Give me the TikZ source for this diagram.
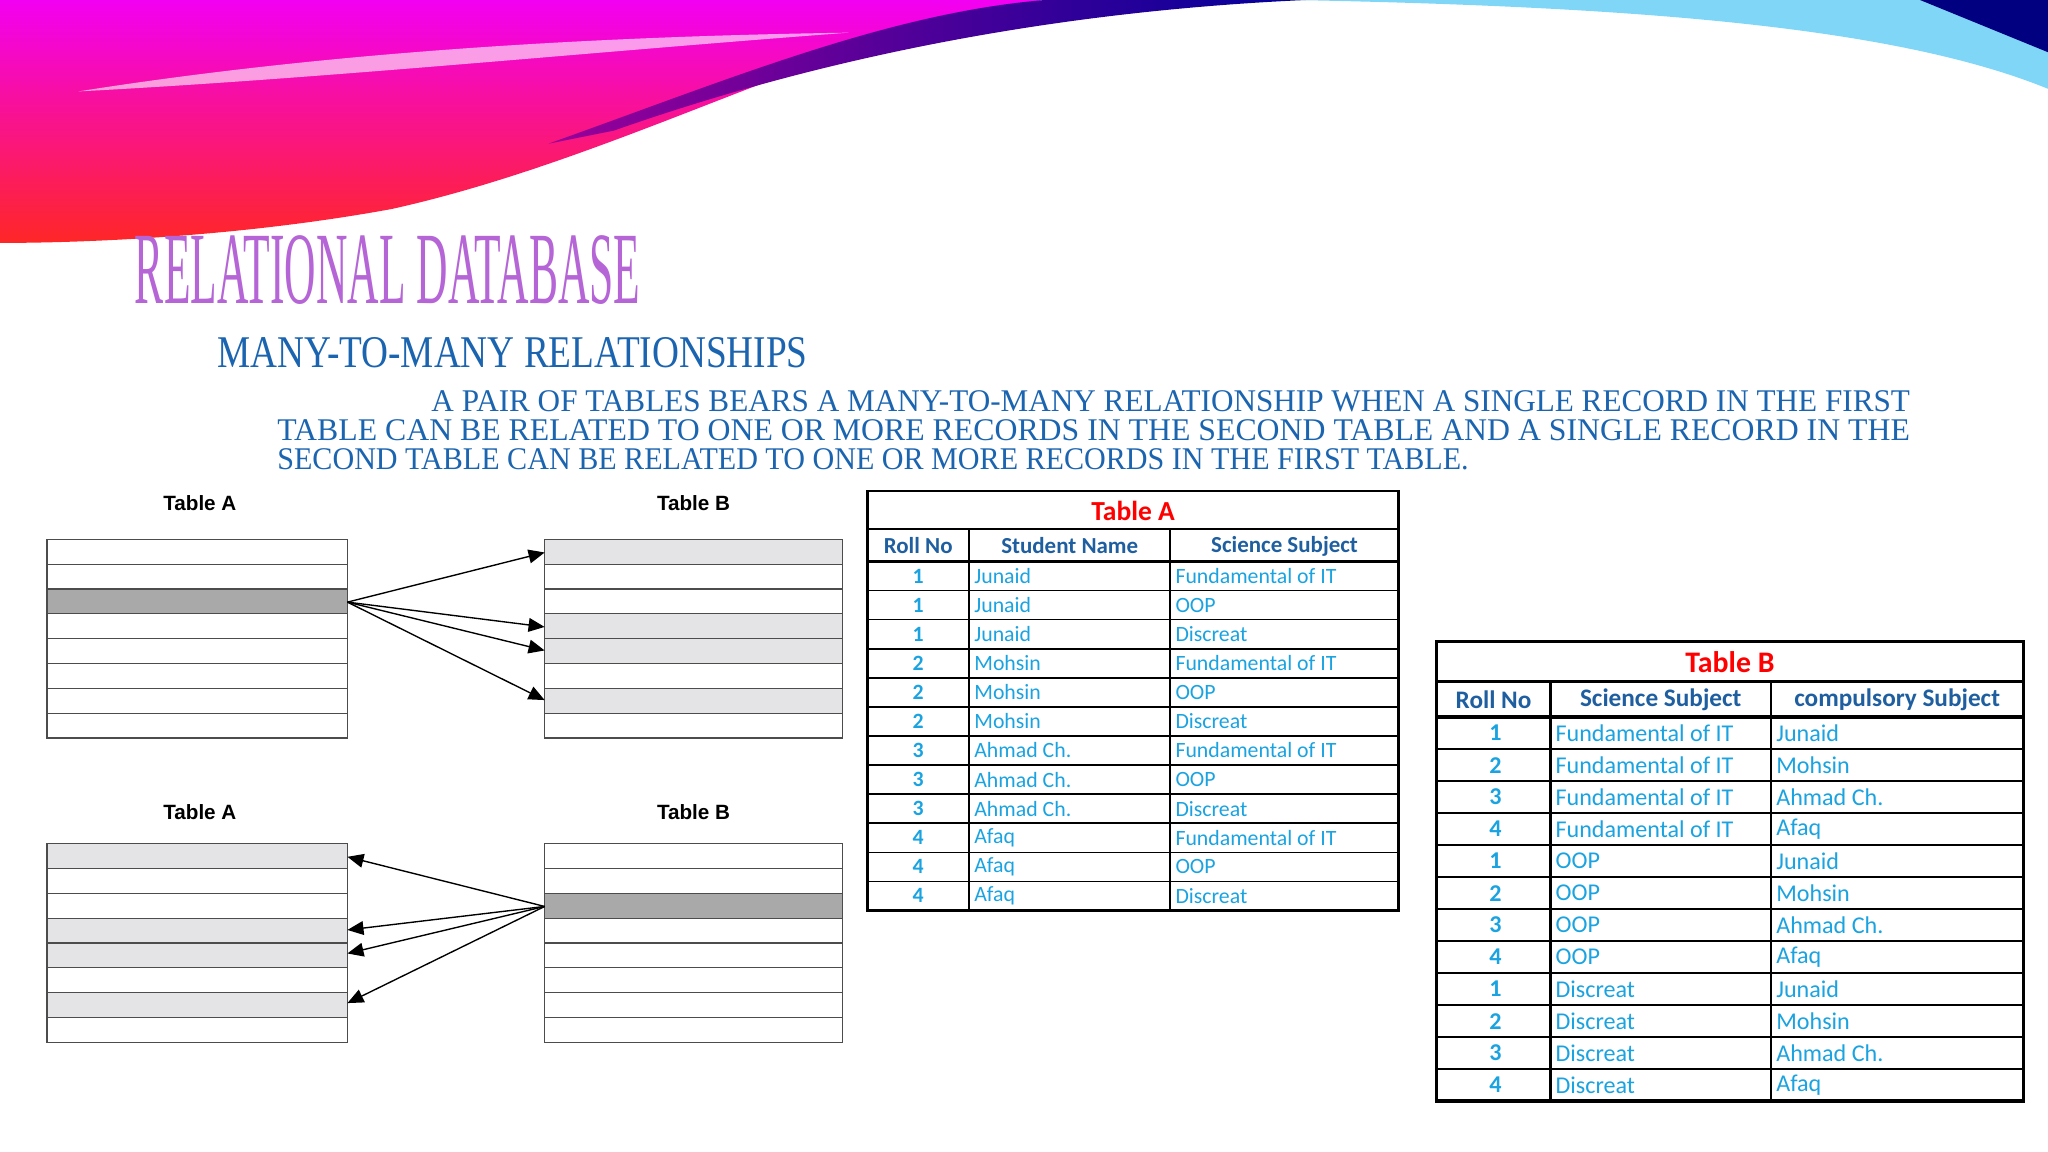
\documentclass[tikz,border=0pt]{standalone}
\usepackage{fontspec}
\setmainfont{Liberation Serif}
\newfontfamily\calfnt{Carlito}
\newfontfamily\ars{Liberation Sans}
\usetikzlibrary{arrows.meta}
\definecolor{hdr}{HTML}{1F5FA0}
\definecolor{dat}{HTML}{1AA3E0}
\definecolor{ttl}{HTML}{B565D6}
\definecolor{sub}{HTML}{1B64B0}
\definecolor{dk}{HTML}{A9A9A9}
\definecolor{lt}{HTML}{E4E4E6}
\begin{document}
\begin{tikzpicture}[x=0.2mm,y=-0.2mm,
  rowbox/.style={draw=black!70,line width=0.5pt},
  arr/.style={-{Triangle[length=7pt,width=6pt]},line width=0.6pt},
  lbl/.style={font=\ars\bfseries\fontsize{9}{10}\selectfont},
  ta/.style={font=\calfnt\fontsize{9.5}{11}\selectfont,text=dat,inner sep=1.5pt},
  tb/.style={font=\calfnt\fontsize{10.5}{12}\selectfont,text=dat,inner sep=1.5pt}]
\useasboundingbox (0,0) rectangle (1568,882);
% swoosh
\shade[top color=magenta!90!violet,bottom color=red!80!pink] (0,0) -- (800,0) .. controls (650,20) and (480,120) .. (300,160) .. controls (180,182) and (60,186) .. (0,186) -- cycle;
\fill[white,opacity=0.6] (60,70) .. controls (250,40) and (450,28) .. (650,25) .. controls (450,40) and (250,60) .. (60,70) -- cycle;
\shade[left color=violet!80!magenta,right color=blue!60!black] (420,110) .. controls (560,60) and (680,10) .. (800,0) -- (1000,0) .. controls (820,8) and (640,40) .. (470,100) -- cycle;
\fill[cyan!50] (990,0) -- (1568,0) -- (1568,68) .. controls (1450,20) and (1250,5) .. (990,0) -- cycle;
\fill[blue!50!black] (1470,0) -- (1568,0) -- (1568,40) -- cycle;
% titles
\node[anchor=north west,inner sep=0,text=ttl] (t) at (103,180) {\resizebox{77.4mm}{10.4mm}{RELATIONAL DATABASE}};
\node[anchor=north west,inner sep=0,text=sub] (s) at (166,258) {\resizebox{90.4mm}{4.6mm}{MANY-TO-MANY RELATIONSHIPS}};
\node[anchor=north west,inner sep=0,text=sub] (p1) at (330,299) {\resizebox{226.4mm}{3.2mm}{A PAIR OF TABLES BEARS A MANY-TO-MANY RELATIONSHIP WHEN A SINGLE RECORD IN THE FIRST}};
\node[anchor=north west,inner sep=0,text=sub] (p2) at (212,321) {\resizebox{250mm}{3.2mm}{TABLE CAN BE RELATED TO ONE OR MORE RECORDS IN THE SECOND TABLE AND A SINGLE RECORD IN THE}};
\node[anchor=north west,inner sep=0,text=sub] (p3) at (212,343) {\resizebox{182.4mm}{3.2mm}{SECOND TABLE CAN BE RELATED TO ONE OR MORE RECORDS IN THE FIRST TABLE.}};
% left diagrams
\node[lbl] (la1) at (153,385) {Table A};
\node[lbl] (lb1) at (531,385) {Table B};
\node[lbl] (la2) at (153,622) {Table A};
\node[lbl] (lb2) at (531,622) {Table B};
\fill[dk] (36,451) rectangle (266,470);
\foreach \r in {0,3,4,6} \fill[lt] (417,413+19*\r) rectangle (645,432+19*\r);
\foreach \r in {0,3,4,6} \fill[lt] (36,646+19*\r) rectangle (266,665+19*\r);
\fill[dk] (417,684) rectangle (645,703);
\foreach \r in {0,...,7}{
  \draw[rowbox] (36,413+19*\r) rectangle (266,432+19*\r);
  \draw[rowbox] (417,413+19*\r) rectangle (645,432+19*\r);
  \draw[rowbox] (36,646+19*\r) rectangle (266,665+19*\r);
  \draw[rowbox] (417,646+19*\r) rectangle (645,665+19*\r);}
\coordinate (s1) at (266,461);
\foreach \y in {423,480,498,536} \draw[arr] (s1) -- (417,\y);
\coordinate (s2) at (417,694);
\foreach \y in {656,712,730,768} \draw[arr] (s2) -- (266,\y);
% Table A
\begin{scope}
\draw[line width=1.2pt] (664,376) rectangle (1071,697);
\draw[line width=1.2pt] (664,405) -- (1071,405);
\draw[line width=1.2pt] (664,430) -- (1071,430);
\foreach \x in {742,896} \draw[line width=0.9pt] (\x,405) -- (\x,697);
\foreach \i in {1,...,11} \draw[line width=0.6pt] (664,430+22.25*\i) -- (1071,430+22.25*\i);
\node[font=\calfnt\bfseries\fontsize{12}{14}\selectfont,text=red] (TA) at (867.5,391) {Table A};
\node[font=\calfnt\bfseries\fontsize{10}{12}\selectfont,text=hdr] (ha1) at (703,418) {Roll No};
\node[font=\calfnt\bfseries\fontsize{10}{12}\selectfont,text=hdr] (ha2) at (819,418) {Student Name};
\node[font=\calfnt\bfseries\fontsize{10}{12}\selectfont,text=hdr] (ha3) at (983.5,418) {Science Subject};
\foreach \n/\nm/\sb [count=\i from 0] in {1/Junaid/Fundamental of IT,1/Junaid/OOP,1/Junaid/Discreat,2/Mohsin/Fundamental of IT,2/Mohsin/OOP,2/Mohsin/Discreat,3/Ahmad Ch./Fundamental of IT,3/Ahmad Ch./OOP,3/Ahmad Ch./Discreat,4/Afaq/Fundamental of IT,4/Afaq/OOP,4/Afaq/Discreat}{
  \node[ta,font=\calfnt\bfseries\fontsize{9.5}{11}\selectfont] (an\i) at (703,441.1+22.25*\i) {\n};
  \node[ta,anchor=west] (am\i) at (743,441.1+22.25*\i) {\nm};
  \node[ta,anchor=west] (as\i) at (897,441.1+22.25*\i) {\sb};}
\end{scope}
% Table B
\begin{scope}
\draw[line width=1.4pt] (1100,491) rectangle (1549,843);
\draw[line width=1.4pt] (1100,522) -- (1549,522);
\draw[line width=1.4pt] (1100,549) -- (1549,549);
\foreach \x in {1187,1356} \draw[line width=1pt] (\x,522) -- (\x,843);
\foreach \i in {1,...,11} \draw[line width=0.7pt] (1100,549+24.5*\i) -- (1549,549+24.5*\i);
\node[font=\calfnt\bfseries\fontsize{13}{15}\selectfont,text=red] (TB) at (1324.5,507) {Table B};
\node[font=\calfnt\bfseries\fontsize{11}{13}\selectfont,text=hdr] (hb1) at (1143.5,536) {Roll No};
\node[font=\calfnt\bfseries\fontsize{11}{13}\selectfont,text=hdr] (hb2) at (1271.5,536) {Science Subject};
\node[font=\calfnt\bfseries\fontsize{11}{13}\selectfont,text=hdr] (hb3) at (1452.5,536) {compulsory Subject};
\foreach \n/\sb/\nm [count=\i from 0] in {1/Fundamental of IT/Junaid,2/Fundamental of IT/Mohsin,3/Fundamental of IT/Ahmad Ch.,4/Fundamental of IT/Afaq,1/OOP/Junaid,2/OOP/Mohsin,3/OOP/Ahmad Ch.,4/OOP/Afaq,1/Discreat/Junaid,2/Discreat/Mohsin,3/Discreat/Ahmad Ch.,4/Discreat/Afaq}{
  \node[tb,font=\calfnt\bfseries\fontsize{10.5}{12}\selectfont] (bn\i) at (1145,561.3+24.5*\i) {\n};
  \node[tb,anchor=west] (bs\i) at (1188,561.3+24.5*\i) {\sb};
  \node[tb,anchor=west] (bm\i) at (1357,561.3+24.5*\i) {\nm};}
\end{scope}
\end{tikzpicture}
\end{document}
